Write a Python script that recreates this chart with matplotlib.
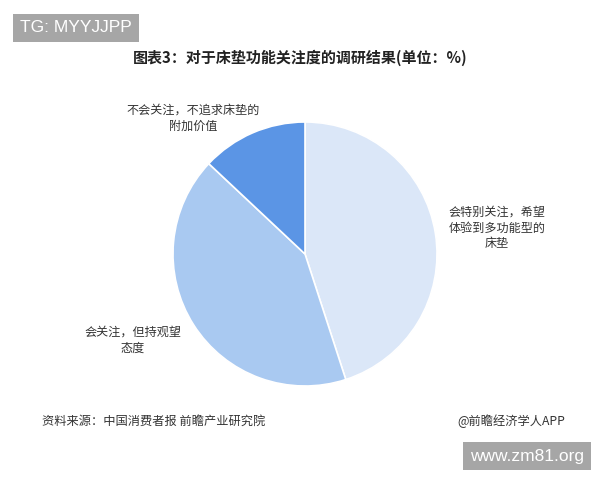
"""
Pie chart: survey on attention paid to mattress functions (unit: %).
"""
import matplotlib
matplotlib.use("Agg")
import matplotlib.pyplot as plt

plt.rcParams["font.family"] = ["Noto Sans CJK SC", "DejaVu Sans"]

# data
labels = [
    "会特别关注，希望\n体验到多功能型的\n床垫",
    "会关注，但持观望\n态度",
    "不会关注，不追求床垫的\n附加价值",
]
values = [45, 42, 13]
colors = ["#dbe7f8", "#a9c9f1", "#5b95e5"]

W, H = 600, 480
fig = plt.figure(figsize=(W / 100, H / 100), dpi=100)

# pie axes: centre ~ (305, 254) px, radius ~132 px
cx, cy, r = 305, 254, 132
ax = fig.add_axes([(cx - r) / W, (H - cy - r) / H, 2 * r / W, 2 * r / H])
ax.pie(values, colors=colors, startangle=90, counterclock=False,
       wedgeprops=dict(edgecolor="white", linewidth=1.2))
ax.set_xlim(-1, 1)
ax.set_ylim(-1, 1)
ax.set_aspect("equal")
ax.axis("off")


def px(x, y):
    return x / W, 1 - y / H


# slice labels
label_pos = [(497, 228), (133, 340), (193, 118)]
for text, (x, y) in zip(labels, label_pos):
    fig.text(*px(x, y), text, ha="center", va="center", fontsize=8.7,
             color="#333333", linespacing=1.3)

# title
fig.text(*px(300, 58), "图表3：对于床垫功能关注度的调研结果(单位：%)",
         ha="center", va="center", fontsize=10.8, fontweight="bold",
         color="#222222")

# footer
fig.text(*px(42, 421), "资料来源：中国消费者报 前瞻产业研究院",
         ha="left", va="center", fontsize=8.8, color="#333333")
fig.text(*px(565, 421), "@前瞻经济学人APP",
         ha="right", va="center", fontsize=8.8, color="#333333")

# corner tags
fig.text(*px(20, 28), "TG: MYYJJPP", ha="left", va="center", fontsize=12.5,
         color="white", family="Liberation Sans",
         bbox=dict(boxstyle="square,pad=0.4", facecolor="#a6a6a6",
                   edgecolor="none"))
fig.text(*px(470, 456), "www.zm81.org", ha="left", va="center", fontsize=12.5,
         color="white", family="Liberation Sans",
         bbox=dict(boxstyle="square,pad=0.4", facecolor="#a6a6a6",
                   edgecolor="none"))

fig.savefig("out.png", dpi=100)
